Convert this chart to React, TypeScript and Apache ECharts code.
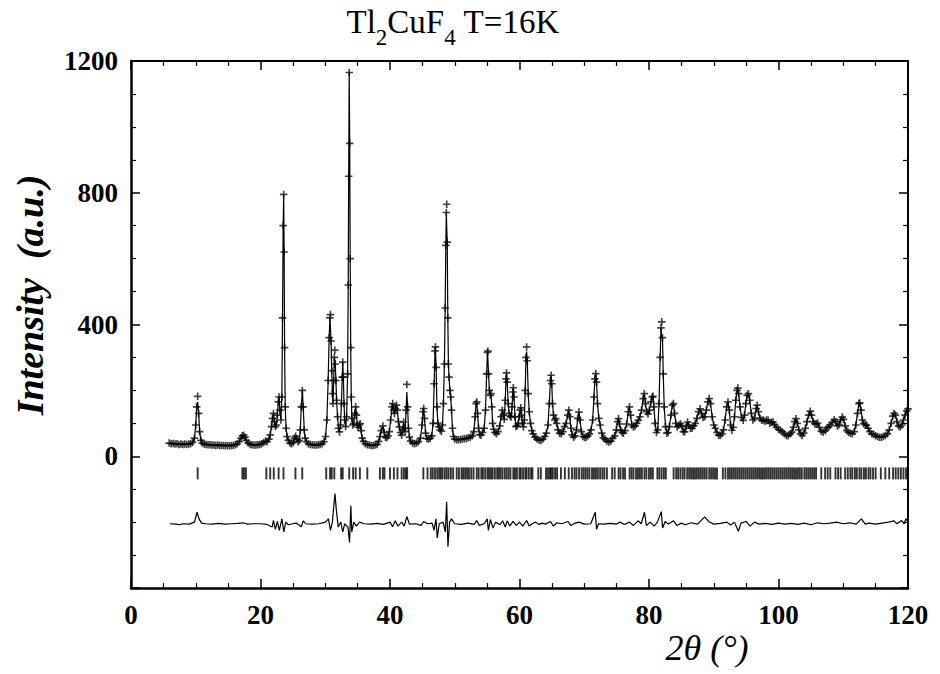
import React, { useEffect, useRef } from 'react';
import * as echarts from 'echarts';

// Observed profile (2θ in degrees, intensity in a.u.)
const observed: [number, number][] = [
  [5.9,40],[6.2,38],[6.5,39],[6.8,37],[7.1,38],[7.4,36],[7.7,37],[8.0,36],[8.3,37],[8.6,36],[8.9,37],[9.2,38],[9.5,42],[9.8,55],[10.0,95],[10.15,150],[10.3,182],[10.45,130],[10.6,75],[10.8,48],[11.0,40],
  [11.3,37],[11.6,36],[11.9,35],[12.2,35],[12.5,34],[12.8,34],[13.1,33],[13.4,34],[13.7,33],[14.0,33],[14.3,33],[14.6,32],[14.9,33],[15.2,32],[15.5,33],[15.8,33],[16.1,35],[16.4,38],[16.7,44],[17.0,55],[17.2,62],[17.4,64],[17.6,58],[17.8,48],[18.1,40],[18.4,36],[18.7,35],[19.0,34],[19.3,34],[19.6,35],[19.9,36],[20.2,38],[20.5,42],[20.8,46],[21.0,44],[21.3,52],[21.5,65],[21.7,90],[21.85,115],[22.0,130],[22.15,105],[22.3,90],[22.45,95],[22.6,125],[22.75,165],[22.86,180],[23.0,140],[23.15,110],[23.3,180],[23.4,420],[23.5,700],[23.58,795],[23.65,620],[23.72,330],[23.82,150],[23.95,85],[24.1,60],[24.3,48],[24.55,40],[24.8,38],[25.05,42],[25.25,55],[25.43,61],[25.6,52],[25.8,44],[26.0,48],[26.15,80],[26.3,150],[26.46,200],[26.6,150],[26.75,80],[26.9,55],[27.1,44],[27.4,38],[27.7,36],[28.0,35],[28.3,34],[28.6,34],[28.9,35],[29.2,36],[29.5,38],[29.8,44],
  [30.05,60],[30.25,110],[30.45,230],[30.6,360],[30.72,420],[30.8,430],[30.9,350],[31.0,260],[31.1,190],[31.2,160],[31.3,230],[31.4,300],[31.47,322],[31.55,280],[31.65,230],[31.75,170],[31.9,120],[32.05,85],[32.2,74],[32.35,95],[32.5,160],[32.62,240],[32.7,286],[32.8,240],[32.9,160],[33.0,110],[33.15,90],[33.3,120],[33.45,250],[33.55,520],[33.62,850],[33.7,1165],[33.78,950],[33.85,600],[33.93,330],[34.02,180],[34.12,115],[34.25,95],[34.4,100],[34.55,130],[34.7,150],[34.82,125],[34.95,95],[35.1,88],[35.25,95],[35.4,99],[35.55,78],[35.7,55],[35.9,45],[36.2,38],[36.5,35],[36.8,34],[37.1,33],[37.4,33],[37.7,34],[38.0,36],[38.25,45],[38.45,60],[38.65,78],[38.9,92],[39.1,72],[39.3,58],[39.5,56],[39.7,62],[39.9,75],
  [40.1,110],[40.3,150],[40.42,160],[40.55,140],[40.7,130],[40.85,145],[41.0,155],[41.12,140],[41.3,105],[41.45,89],[41.6,72],[41.8,64],[41.95,80],[42.1,104],[42.22,85],[42.35,75],[42.48,140],[42.6,218],[42.72,150],[42.85,85],[43.0,58],[43.2,46],[43.5,40],[43.8,38],[44.1,40],[44.4,44],[44.7,55],[44.95,95],[45.1,135],[45.2,145],[45.32,115],[45.5,70],[45.7,54],[45.95,52],[46.2,55],[46.45,62],[46.65,100],[46.82,220],[46.95,320],[47.02,332],[47.12,270],[47.25,150],[47.4,100],[47.55,89],[47.75,80],[47.95,76],[48.1,95],[48.25,160],[48.4,280],[48.52,450],[48.62,640],[48.7,740],[48.76,765],[48.84,650],[48.93,420],[49.02,280],[49.12,240],[49.25,200],[49.38,180],[49.5,140],[49.65,85],[49.8,60],
  [50.0,52],[50.3,50],[50.6,50],[50.9,51],[51.2,52],[51.5,53],[51.8,54],[52.1,56],[52.4,58],[52.7,62],[52.95,75],[53.15,120],[53.3,160],[53.4,165],[53.52,130],[53.68,85],[53.85,66],[54.05,64],[54.3,72],[54.55,85],[54.75,140],[54.92,250],[55.05,315],[55.12,319],[55.22,250],[55.35,200],[55.5,185],[55.6,190],[55.72,150],[55.85,100],[56.0,82],[56.2,72],[56.45,68],[56.7,75],[56.95,92],[57.15,120],[57.35,140],[57.5,125],[57.65,112],[57.8,170],[57.92,235],[58.0,253],[58.1,225],[58.25,160],[58.4,130],[58.55,122],[58.7,119],[58.85,150],[58.97,195],[59.05,208],[59.15,180],[59.3,120],[59.45,90],[59.6,92],[59.8,99],[59.95,120],
  [60.1,140],[60.2,147],[60.32,125],[60.45,100],[60.6,89],[60.75,110],[60.88,200],[61.0,300],[61.1,332],[61.2,290],[61.35,190],[61.5,135],[61.7,100],[61.9,78],[62.1,68],[62.4,58],[62.7,52],[63.0,49],[63.3,48],[63.6,52],[63.9,60],[64.15,70],[64.4,95],[64.6,160],[64.78,230],[64.88,246],[64.98,220],[65.1,160],[65.25,125],[65.45,110],[65.6,114],[65.75,100],[65.95,80],[66.2,70],[66.45,68],[66.7,75],[66.95,90],[67.2,100],[67.45,125],[67.62,140],[67.78,120],[67.95,85],[68.15,65],[68.35,58],[68.55,62],[68.8,80],[69.0,115],[69.18,134],[69.35,110],[69.55,75],[69.8,60],
  [70.05,57],[70.3,58],[70.55,62],[70.8,68],[71.05,80],[71.3,110],[71.5,180],[71.65,235],[71.78,251],[71.9,225],[72.05,160],[72.25,115],[72.45,95],[72.7,70],[72.95,56],[73.2,52],[73.5,46],[73.8,43],[74.1,46],[74.4,55],[74.7,62],[74.95,80],[75.15,105],[75.3,114],[75.45,98],[75.65,78],[75.85,72],[76.05,70],[76.3,78],[76.55,98],[76.8,135],[76.98,150],[77.15,125],[77.35,95],[77.6,89],[77.85,92],[78.1,100],[78.35,109],[78.6,120],[78.85,140],[79.1,175],[79.28,190],[79.45,160],[79.65,135],[79.85,128],
  [80.05,140],[80.3,165],[80.5,180],[80.62,182],[80.75,150],[80.95,100],[81.15,72],[81.35,80],[81.55,160],[81.72,300],[81.85,390],[81.97,408],[82.08,360],[82.2,250],[82.35,150],[82.55,90],[82.75,70],[82.95,72],[83.15,90],[83.4,125],[83.6,155],[83.78,160],[83.95,130],[84.15,100],[84.35,89],[84.6,94],[84.85,99],[85.05,92],[85.3,75],[85.5,74],[85.75,90],[85.96,104],[86.15,95],[86.4,85],[86.65,85],[86.9,92],[87.15,100],[87.4,115],[87.65,135],[87.9,144],[88.1,130],[88.35,118],[88.6,120],[88.85,140],[89.1,165],[89.3,175],[89.5,160],[89.75,120],
  [90.0,95],[90.25,85],[90.5,72],[90.75,64],[91.0,63],[91.25,68],[91.5,80],[91.75,110],[92.0,150],[92.2,165],[92.4,140],[92.6,95],[92.8,79],[93.0,88],[93.2,120],[93.4,170],[93.6,200],[93.72,207],[93.85,190],[94.05,150],[94.3,118],[94.55,109],[94.75,125],[94.95,160],[95.15,185],[95.35,190],[95.55,170],[95.8,130],[96.05,110],[96.3,115],[96.55,145],[96.7,155],[96.9,135],[97.15,115],[97.4,109],[97.65,110],[97.9,106],[98.15,110],[98.4,109],[98.65,100],[98.9,103],[99.15,104],[99.4,96],[99.7,88],
  [100.0,82],[100.3,79],[100.6,74],[100.9,68],[101.2,63],[101.5,62],[101.8,68],[102.05,73],[102.3,88],[102.5,105],[102.7,114],[102.9,100],[103.15,80],[103.4,68],[103.65,63],[103.9,70],[104.15,85],[104.4,105],[104.65,125],[104.9,137],[105.1,125],[105.35,105],[105.6,99],[105.85,98],[106.05,101],[106.3,88],[106.6,76],[106.9,73],[107.2,78],[107.5,86],[107.75,89],[108.0,95],[108.3,103],[108.6,111],[108.85,105],[109.1,92],[109.35,96],[109.6,110],[109.85,119],
  [110.05,112],[110.3,92],[110.55,78],[110.8,73],[111.1,70],[111.4,68],[111.7,75],[111.95,95],[112.2,130],[112.42,160],[112.55,162],[112.75,140],[112.95,110],[113.15,99],[113.4,96],[113.6,94],[113.85,85],[114.1,75],[114.4,68],[114.7,66],[115.0,62],[115.3,60],[115.6,58],[115.9,58],[116.2,60],[116.5,63],[116.8,68],[117.1,80],[117.4,100],[117.65,122],[117.85,130],[118.05,125],[118.3,105],[118.55,92],[118.8,89],[119.05,95],[119.3,110],[119.55,125],[119.8,138],[120.0,144],
];

// Points where the calculated curve sits below the observed crosses
const calcPeakTops: [number, number][] = [
  [10.3,165],[30.8,420],[31.47,290],[42.6,195],[48.76,695],[55.12,295],[61.1,318],[81.97,362],
];

// Bragg reflection positions (2θ)
const braggPositions: number[] = [
  10.3,17.2,17.45,17.75,20.9,21.5,22.05,22.8,23.55,25.4,26.45,30.15,30.75,31.0,31.4,32.45,32.7,33.7,34.3,34.7,35.35,36.5,
  38.45,38.9,39.15,40.0,40.6,41.15,41.8,42.15,42.45,42.65,45.15,45.8,46.3,46.6,46.95,47.3,47.6,47.85,48.1,48.45,48.75,49.05,49.4,49.75,
  50.3,50.65,51.05,51.3,51.6,51.9,52.2,52.55,52.9,53.4,53.7,54.1,54.35,54.7,55.05,55.3,55.6,55.85,56.2,56.55,56.8,57.05,57.35,57.7,58.0,58.3,58.6,59.05,59.3,59.6,
  60.0,60.2,60.55,60.9,61.1,61.45,61.8,62.0,62.9,63.3,64.1,64.4,64.7,64.9,65.15,65.5,65.8,66.4,67.0,67.6,68.1,68.5,68.8,69.2,69.6,69.9,
  70.2,70.5,70.8,71.2,71.5,71.8,72.1,72.45,72.8,73.1,73.5,74.3,74.7,75.3,75.6,76.0,76.3,77.0,77.3,77.6,78.0,78.3,78.6,78.9,79.3,79.6,
  80.0,80.3,80.6,81.3,81.6,81.95,82.3,82.6,83.8,84.2,84.5,84.85,85.2,85.5,85.9,86.2,86.5,86.8,87.1,87.4,87.7,88.0,88.3,88.6,88.9,89.3,89.6,89.9,
  90.2,90.5,91.4,91.8,92.2,92.5,92.8,93.1,93.4,93.7,94.0,94.3,94.6,94.9,95.2,95.5,95.8,96.1,96.4,96.7,97.0,97.3,97.6,97.9,98.2,98.5,98.8,99.1,99.4,99.7,
  100.0,100.3,100.6,100.9,101.2,101.5,101.8,102.1,102.4,102.7,103.0,103.3,103.6,104.0,104.3,104.6,104.9,105.2,105.5,105.8,106.6,107.2,107.6,108.0,108.8,109.2,109.6,
  110.3,110.7,111.1,111.4,111.8,112.1,112.5,112.8,113.2,113.5,113.9,114.2,114.6,115.0,115.8,116.5,117.1,117.7,118.1,118.5,118.9,119.3,119.7,
];
const braggLevel = -52;

// Difference curve (observed - calculated), drawn with an offset
const difference: [number, number][] = [
  [6.0,-205],[7.0,-206],[7.5,-208],[8.0,-205],[9.0,-206],[9.8,-200],[10.2,-170],[10.5,-190],[10.9,-203],[11.5,-205],[12.5,-206],[13.5,-204],[14.5,-206],[15.5,-205],[16.5,-204],[17.3,-202],[18.0,-206],[19.0,-205],[20.0,-205],[21.0,-207],[21.8,-215],[22.0,-195],[22.3,-222],[22.6,-198],[22.9,-225],[23.3,-190],[23.6,-230],[23.9,-200],[24.3,-208],[25.0,-205],[25.5,-203],[26.3,-214],[26.6,-196],[27.0,-205],[28.0,-206],[29.0,-205],
  [30.0,-200],[30.5,-190],[30.8,-225],[31.1,-200],[31.5,-113],[31.7,-160],[32.0,-215],[32.4,-200],[32.7,-230],[33.0,-205],[33.5,-215],[33.75,-262],[33.95,-150],[34.1,-230],[34.4,-200],[34.8,-212],[35.3,-200],[36.0,-205],[37.0,-206],[38.0,-204],[39.0,-207],
  [40.0,-200],[40.4,-214],[40.8,-196],[41.2,-212],[41.8,-200],[42.2,-212],[42.6,-183],[43.0,-206],[44.0,-205],[44.8,-210],[45.2,-198],[45.8,-205],[46.5,-203],[46.8,-225],[47.1,-190],[47.3,-248],[47.6,-205],[48.2,-200],[48.55,-230],[48.75,-138],[48.95,-275],[49.2,-200],[49.5,-190],
  [50.0,-205],[51.0,-207],[52.0,-203],[53.0,-207],[53.4,-195],[53.8,-210],[54.6,-204],[55.0,-190],[55.2,-225],[55.5,-192],[55.9,-218],[56.3,-200],[57.0,-208],[57.4,-196],[57.8,-215],[58.1,-196],[58.5,-212],[59.0,-198],[59.5,-210],
  [60.0,-200],[60.5,-212],[61.1,-195],[61.5,-212],[62.0,-204],[62.5,-200],[63.0,-207],[63.5,-203],[64.0,-206],[64.8,-198],[65.2,-212],[65.8,-202],[66.5,-205],[67.5,-198],[67.9,-210],[68.5,-204],[69.2,-200],
  [70.0,-206],[71.0,-205],[71.7,-170],[71.9,-222],[72.2,-205],[73.0,-206],[74.0,-204],[75.0,-206],[75.5,-200],[76.2,-207],[77.0,-200],[77.6,-210],[78.3,-196],[78.8,-205],[79.3,-170],[79.6,-210],
  [80.2,-200],[80.8,-212],[81.3,-200],[81.9,-168],[82.1,-218],[82.5,-198],[83.0,-206],[83.8,-196],[84.3,-210],[85.0,-203],[85.6,-208],[86.5,-202],[87.5,-206],[88.0,-196],[88.6,-184],[89.2,-198],
  [90.0,-206],[91.0,-204],[92.0,-200],[92.6,-209],[93.2,-200],[93.8,-228],[94.2,-203],[95.0,-198],[95.6,-212],[96.3,-200],[97.0,-206],[98.0,-204],[99.0,-207],
  [100.0,-203],[101.0,-206],[102.0,-204],[103.0,-207],[104.0,-203],[105.0,-208],[106.0,-202],[107.0,-205],[108.0,-203],[109.0,-200],
  [110.0,-205],[111.0,-202],[112.0,-206],[112.8,-190],[113.4,-206],[114.0,-203],[115.0,-206],[116.0,-203],[117.0,-200],[117.8,-196],[118.3,-205],[119.0,-195],[119.4,-205],[119.7,-190],[120.0,-200],
];

const xTickValues = [0, 20, 40, 60, 80, 100, 120];
const yTickValues = [0, 400, 800, 1200];

const SERIF = "'Liberation Serif', 'DejaVu Serif', 'Times New Roman', serif";
const PLUS = 'path://M3.5,0H5.5V3.5H9V5.5H5.5V9H3.5V5.5H0V3.5H3.5Z';

export default function App() {
  const ref = useRef<HTMLDivElement>(null);
  useEffect(() => {
    if (!ref.current) return;
    const chart = echarts.init(ref.current, null, { renderer: 'svg' });
    const calcMap = new Map<number, number>(calcPeakTops.map(([x, y]) => [x, y] as [number, number]));
    const calculated = observed.map(([x, y]) => [x, calcMap.has(x) ? (calcMap.get(x) as number) : y]);

    const baseAxisLine = { show: true, onZero: false, lineStyle: { color: '#000', width: 2.5 } };
    const grid = { left: 131, top: 61, width: 777, height: 527 };
    const xBase = {
      type: 'value' as const,
      min: xTickValues[0],
      max: xTickValues[xTickValues.length - 1],
      interval: xTickValues[1] - xTickValues[0],
      splitLine: { show: false },
      minorSplitLine: { show: false },
      axisTick: { show: true, inside: true, length: 9, lineStyle: { color: '#000', width: 1.5 } },
      minorTick: { show: true, splitNumber: 4, length: 5, lineStyle: { color: '#000', width: 1.2 } },
    };
    const yBase = {
      type: 'value' as const,
      min: -400,
      max: yTickValues[yTickValues.length - 1],
      interval: yTickValues[1] - yTickValues[0],
      splitLine: { show: false },
      minorSplitLine: { show: false },
      axisTick: { show: true, inside: true, length: 9, lineStyle: { color: '#000', width: 1.5 } },
      minorTick: { show: true, splitNumber: 4, length: 5, lineStyle: { color: '#000', width: 1.2 } },
    };
    const labelStyle = { fontFamily: SERIF, fontWeight: 'bold' as const, fontSize: 27, color: '#000' };

    chart.setOption({
      animation: false,
      backgroundColor: '#fff',
      grid,
      xAxis: [
        { ...xBase, position: 'bottom', axisLine: baseAxisLine, axisLabel: { ...labelStyle, margin: 13 } },
        { ...xBase, position: 'top', axisLine: { ...baseAxisLine, lineStyle: { color: '#000', width: 2 } }, axisLabel: { show: false } },
      ],
      yAxis: [
        {
          ...yBase,
          position: 'left',
          axisLine: baseAxisLine,
          axisLabel: {
            ...labelStyle,
            margin: 13,
            formatter: (v: number) => (yTickValues.includes(v) ? String(v) : ''),
          },
        },
        { ...yBase, position: 'right', axisLine: { ...baseAxisLine, lineStyle: { color: '#000', width: 2 } }, axisLabel: { show: false } },
      ],
      series: [
        {
          name: 'Observed',
          type: 'scatter',
          xAxisIndex: 0,
          yAxisIndex: 0,
          data: observed,
          symbol: PLUS,
          symbolSize: 7.5,
          itemStyle: { color: '#111' },
          z: 2,
        },
        {
          name: 'Calculated',
          type: 'line',
          xAxisIndex: 0,
          yAxisIndex: 0,
          data: calculated,
          showSymbol: false,
          lineStyle: { color: '#000', width: 1.2 },
          z: 3,
        },
        {
          name: 'Bragg',
          type: 'scatter',
          xAxisIndex: 0,
          yAxisIndex: 0,
          data: braggPositions.map((p) => [p, braggLevel]),
          symbol: 'rect',
          symbolSize: [1.9, 12],
          itemStyle: { color: '#000' },
        },
        {
          name: 'Difference',
          type: 'line',
          xAxisIndex: 0,
          yAxisIndex: 0,
          data: difference,
          showSymbol: false,
          lineStyle: { color: '#000', width: 1.2 },
        },
      ],
      graphic: [
        {
          type: 'text',
          x: 453,
          y: 22,
          style: {
            text: '{a|Tl}{s|2}{a|CuF}{s|4}{a| T=16K}',
            align: 'center',
            verticalAlign: 'middle',
            fill: '#000',
            rich: {
              a: { fontFamily: SERIF, fontSize: 33, fill: '#000' },
              s: { fontFamily: SERIF, fontSize: 23, fill: '#000', padding: [30, 0, 0, 0] },
            },
          },
        },
        {
          type: 'text',
          x: 30,
          y: 295,
          rotation: Math.PI / 2,
          style: {
            text: 'Intensity  (a.u.)',
            fontFamily: SERIF,
            fontStyle: 'italic',
            fontWeight: 'bold',
            fontSize: 38,
            fill: '#000',
            align: 'center',
            verticalAlign: 'middle',
          },
        },
        {
          type: 'text',
          x: 707,
          y: 648,
          style: {
            text: '2θ (°)',
            fontFamily: SERIF,
            fontStyle: 'italic',
            fontSize: 36,
            fill: '#000',
            align: 'center',
            verticalAlign: 'middle',
          },
        },
      ],
    });
    return () => chart.dispose();
  }, []);
  return <div ref={ref} style={{ position: 'absolute', left: 0, top: 0, width: 940, height: 674 }} />;
}
